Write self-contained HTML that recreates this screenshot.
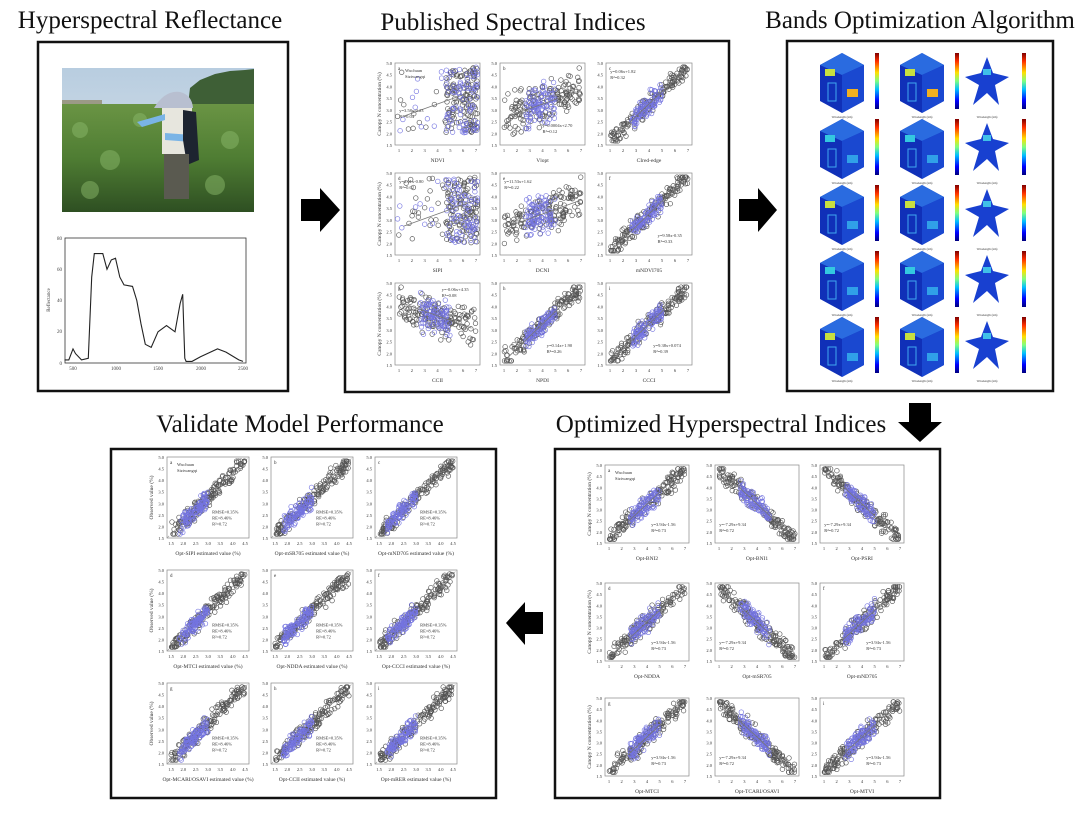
<!DOCTYPE html>
<html><head><meta charset="utf-8"><style>
html,body{margin:0;padding:0;background:#fff;}
body{width:1080px;height:830px;overflow:hidden;}
</style></head><body>
<svg id="s" width="1080" height="830" viewBox="0 0 1080 830" xmlns="http://www.w3.org/2000/svg" font-family="Liberation Serif, serif">
<rect width="1080" height="830" fill="#fff"/>
<g font-size="25" fill="#111">
<text x="150" y="28" text-anchor="middle">Hyperspectral Reflectance</text>
<text x="513" y="30" text-anchor="middle">Published Spectral Indices</text>
<text x="920" y="28" text-anchor="middle">Bands Optimization Algorithm</text>
<text x="300" y="432" text-anchor="middle">Validate Model Performance</text>
<text x="721" y="432" text-anchor="middle">Optimized Hyperspectral Indices</text>
</g>
<g fill="none" stroke="#111" stroke-width="2.5">
<rect x="38" y="42" width="250" height="349"/>
<rect x="345" y="41" width="384" height="351"/>
<rect x="787" y="41" width="266" height="350"/>
<rect x="111" y="449" width="385" height="349"/>
<rect x="555" y="449" width="385" height="349"/>
</g>
<g fill="#000">
<polygon points="301,199 320,199 320,188 340,210 320,232 320,221 301,221"/>
<polygon points="739,199 758,199 758,188 777,210 758,232 758,221 739,221"/>
<polygon points="909,403 931,403 931,422 942,422 920,442 898,422 909,422"/>
<polygon points="543,612 525,612 525,602 506,623 525,645 525,634 543,634"/>
</g>
<defs>
<linearGradient id="sky" x1="0" y1="0" x2="0" y2="1"><stop offset="0" stop-color="#b8cde0"/><stop offset="1" stop-color="#dfe6ea"/></linearGradient>
<linearGradient id="field" x1="0" y1="0" x2="0" y2="1"><stop offset="0" stop-color="#6a9444"/><stop offset="0.5" stop-color="#4f7d33"/><stop offset="1" stop-color="#2e4f22"/></linearGradient>
<linearGradient id="jet" x1="0" y1="1" x2="0" y2="0"><stop offset="0" stop-color="#00007f"/><stop offset="0.15" stop-color="#0000ff"/><stop offset="0.35" stop-color="#00bfff"/><stop offset="0.5" stop-color="#7fff7f"/><stop offset="0.65" stop-color="#ffdf00"/><stop offset="0.85" stop-color="#ff3000"/><stop offset="1" stop-color="#7f0000"/></linearGradient>
</defs>
<rect x="62" y="68" width="192" height="144" fill="url(#sky)"/>
<path d="M188,105 L190,88 200,80 215,74 230,71 245,70 254,69 254,106 Z" fill="#3e5f36"/>
<rect x="62" y="100" width="40" height="5" fill="#9b9a86"/>
<rect x="62" y="104" width="192" height="108" fill="url(#field)"/>
<g fill="#8ab86a" opacity="0.5"><circle cx="80" cy="130" r="8"/><circle cx="110" cy="160" r="10"/><circle cx="230" cy="140" r="9"/><circle cx="215" cy="185" r="10"/><circle cx="90" cy="190" r="9"/><circle cx="140" cy="120" r="7"/></g>
<path d="M154,108 Q165,90 180,92 Q192,95 193,108 Z" fill="#b8bfd0"/>
<rect x="162" y="108" width="30" height="46" fill="#e7e6de"/>
<path d="M137,122 L165,114 L165,120 L142,127 Z" fill="#7ab4e6"/>
<path d="M165,133 L192,135 L192,142 L165,140 Z" fill="#7ab4e6"/>
<path d="M183,110 L196,112 L199,160 L187,165 L183,140 Z" fill="#1d2430"/>
<rect x="164" y="154" width="25" height="45" fill="#5a5a50"/>
<rect x="65" y="238" width="181" height="125" fill="none" stroke="#333" stroke-width="0.8"/>
<g font-size="5" fill="#444">
<text x="62" y="240" text-anchor="end">80</text><text x="62" y="271" text-anchor="end">60</text><text x="62" y="302" text-anchor="end">40</text><text x="62" y="333" text-anchor="end">20</text><text x="62" y="365" text-anchor="end">0</text>
<text x="73" y="370" text-anchor="middle">500</text><text x="116" y="370" text-anchor="middle">1000</text><text x="158" y="370" text-anchor="middle">1500</text><text x="201" y="370" text-anchor="middle">2000</text><text x="243" y="370" text-anchor="middle">2500</text>
<text x="50" y="300" transform="rotate(-90 50 300)" text-anchor="middle">Reflectance</text>
</g>
<polyline id="spec" fill="none" stroke="#222" stroke-width="1.1"/>
<g id="g"></g>
</svg>
<script>
(function(){
var NS="http://www.w3.org/2000/svg",G=document.getElementById('g');
function el(t,a,p){var e=document.createElementNS(NS,t);for(var k in a)e.setAttribute(k,a[k]);(p||G).appendChild(e);return e;}
function txt(x,y,s,sz,anc,extra){var a={x:x,y:y,'font-size':sz,fill:'#333','text-anchor':anc||'start'};if(extra)for(var k in extra)a[k]=extra[k];var e=el('text',a);e.textContent=s;return e;}
var seed=7;function r(){seed=(seed*16807)%2147483647;return seed/2147483647;}
function n(){return (r()+r()+r()-1.5)/1.5;}
var sp=[[400,2],[450,2],[500,9],[530,6],[600,2],[680,3],[720,55],[750,70],[850,70],[900,60],[950,66],[1000,67],[1050,55],[1100,50],[1200,49],[1250,40],[1300,25],[1350,12],[1420,10],[1500,20],[1600,24],[1700,20],[1760,38],[1790,44],[1805,20],[1815,3],[1830,1],[1900,1],[2000,4],[2200,9],[2300,7],[2450,2],[2500,1]];
document.getElementById('spec').setAttribute('points',sp.map(function(p){return (73+(p[0]-500)*0.085).toFixed(1)+','+(363-p[1]*1.5625).toFixed(1)}).join(' '));
function plot(x,y,w,h,type,xl,yl,letter,ann,legend){
 el('rect',{x:x,y:y,width:w,height:h,fill:'none',stroke:'#888','stroke-width':0.7});
 var ticks=['5.0','4.5','4.0','3.5','3.0','2.5','2.0','1.5'];
 for(var i=0;i<8;i++)txt(x-3,y+2+i*(h/7),ticks[i],4.5,'end');
 for(var i=0;i<7;i++)txt(x+4+i*(w-8)/6,y+h+7,type=='diag'?(1.5+i*0.5).toFixed(1):(i+1)+'',4.5,'middle');
 txt(x+w/2,y+h+17,xl,5.5,'middle');
 if(yl){var yy=y+h/2;txt(x-14,yy,yl,5.5,'middle',{transform:'rotate(-90 '+(x-14)+' '+yy+')'});}
 txt(x+3,y+7,letter,5,'start');
 var N=160,NB=95;
 function P(t,blue){var px,py;
  if(type=='pos'){px=t;py=t+n()*0.18;}
  else if(type=='neg'){px=t;py=1-t+n()*0.18;}
  else if(type=='diag'){px=t;py=t+n()*0.16;}
  else if(type=='right'){px=0.6+r()*0.38;py=0.15+r()*0.8;if(r()<0.1){px=r()*0.6;}}
  else if(type=='negc'){px=t;py=0.75-0.3*t+n()*0.35;}
  else {px=t;py=0.3+0.4*t+n()*0.35;}
  px=Math.max(0.03,Math.min(0.97,px));py=Math.max(0.05,Math.min(0.95,py));
  el('circle',{cx:(x+px*w).toFixed(1),cy:(y+h-py*h).toFixed(1),r:2.3,fill:'none',stroke:blue?'#7474e0':'#555','stroke-width':0.65});}
 if(type=='diag')el('line',{x1:x,y1:y+h,x2:x+w,y2:y,stroke:'#999','stroke-width':0.6,'stroke-dasharray':'3,2'});
 for(var i=0;i<N;i++)P(0.05+r()*0.9,false);
 for(var i=0;i<NB;i++){var t=type=='diag'?0.15+r()*0.35:0.3+r()*0.35;P(t,true);}
 if(type!='diag'){var a=type=='neg'||type=='negc'?[0.9,0.1]:[0.1,0.9];if(type=='right'||type=='cloud'||type=='negc')a=type=='negc'?[0.75,0.45]:[0.35,0.65];
  el('line',{x1:x+0.1*w,y1:y+h-a[0]*h,x2:x+0.9*w,y2:y+h-a[1]*h,stroke:'#777','stroke-width':0.8});}
 if(ann){var ax=ann[0],ay=ann[1];for(var i=0;i<ann[2].length;i++)txt(x+ax*w,y+ay*h+i*6,ann[2][i],4.5,'start');}
 if(legend){txt(x+10,y+9,'Wuchuan',4.5);txt(x+10,y+15,'Siziwangqi',4.5);}
}
var c2=[395,500,606],r2=[63,173,283],l2=[['NDVI','Vlopt','CIred-edge'],['SIPI','DCNI','mNDVI705'],['CCII','NPDI','CCCI']];
var t2=[['right','cloud','pos'],['right','cloud','pos'],['negc','pos','pos']];
var L='abcdefghi';
for(var i=0;i<3;i++)for(var j=0;j<3;j++){
 var an=[[0.05,0.6,['y=3.58x-0.23','R²=0.04']],[0.5,0.78,['y=0.0004x+2.70','R²=0.12']],[0.05,0.12,['y=0.06x+1.82','R²=0.32']],
 [0.05,0.12,['y=2.61x-0.80','R²=0.02']],[0.05,0.12,['y=11.53x+1.62','R²=0.22']],[0.6,0.78,['y=9.58x-0.35','R²=0.33']],
 [0.55,0.1,['y=-0.06x+4.35','R²=0.08']],[0.55,0.78,['y=0.14x+1.90','R²=0.26']],[0.55,0.78,['y=9.38x+0.074','R²=0.39']]][i*3+j];
 plot(c2[j],r2[i],j==2?86:85,82,t2[i][j],l2[i][j],j==0?'Canopy N concentration (%)':'',L[i*3+j],an,i==0&&j==0);}
var c5=[605,715,820],r5=[465,583,698],l5=[['Opt-BNI2','Opt-BNI1','Opt-PSRI'],['Opt-NDDA','Opt-mSR705','Opt-mND705'],['Opt-MTCI','Opt-TCARI/OSAVI','Opt-MTVI']];
var t5=[['pos','neg','neg'],['pos','neg','pos'],['pos','neg','pos']];
for(var i=0;i<3;i++)for(var j=0;j<3;j++){var tt=t5[i][j];
 plot(c5[j],r5[i],84,78,tt,l5[i][j],j==0?'Canopy N concentration (%)':'',L[i*3+j],tt=='pos'?[0.55,0.78,['y=3.94x-1.56','R²=0.73']]:[0.05,0.78,['y=-7.29x+9.34','R²=0.72']],i==0&&j==0);}
var c4=[167,271,375],r4=[457,570,683],l4=[['Opt-SIPI','Opt-mSR705','Opt-mND705'],['Opt-MTCI','Opt-NDDA','Opt-CCCI'],['Opt-MCARI/OSAVI','Opt-CCII','Opt-mRER']];
for(var i=0;i<3;i++)for(var j=0;j<3;j++)plot(c4[j],r4[i],82,81,'diag',l4[i][j]+' estimated value (%)',j==0?'Observed value (%)':'',L[i*3+j],[0.55,0.7,['RMSE=0.35%','RE=8.46%','R²=0.72']],i==0&&j==0);
var cx=[820,900,965];
for(var i=0;i<5;i++)for(var j=0;j<3;j++){
 var x=cx[j],y=53+i*66,w=44,h=60;
 if(j<2){
  el('polygon',{points:[x,y+12,x+w/2,y,x+w,y+12,x+w,y+h-12,x+w/2,y+h,x,y+h-12].join(' '),fill:'#1030b8'});
  el('polygon',{points:[x+w/2,y,x+w,y+12,x+w/2,y+22,x,y+12].join(' '),fill:'#2a6be0'});
  el('polygon',{points:[x+w/2,y+22,x+w,y+12,x+w,y+h-12,x+w/2,y+h].join(' '),fill:'#1a48d0'});
  el('rect',{x:x+5,y:y+16,width:10,height:7,fill:i%2?'#33c8e0':'#c8e040'});
  el('rect',{x:x+27,y:y+h-24,width:11,height:8,fill:i==0?'#f0b020':'#30a0e8'});
  el('rect',{x:x+8,y:y+30,width:8,height:18,fill:'none',stroke:'#3fa8f0','stroke-width':1});
 } else {
  el('polygon',{points:[x+22,y+4,x+28,y+20,x+44,y+24,x+30,y+32,x+34,y+52,x+22,y+40,x+8,y+52,x+14,y+32,x,y+24,x+16,y+20].join(' '),fill:'#1840d0'});
  el('rect',{x:x+18,y:y+16,width:8,height:6,fill:'#40c0e8'});
 }
 el('rect',{x:x+(j<2?55:57),y:y,width:4,height:h-4,fill:'url(#jet)'});
 txt(x+w/2,y+h+5,'Wavelength (nm)',3,'middle');
}
})();
</script>
</body></html>
